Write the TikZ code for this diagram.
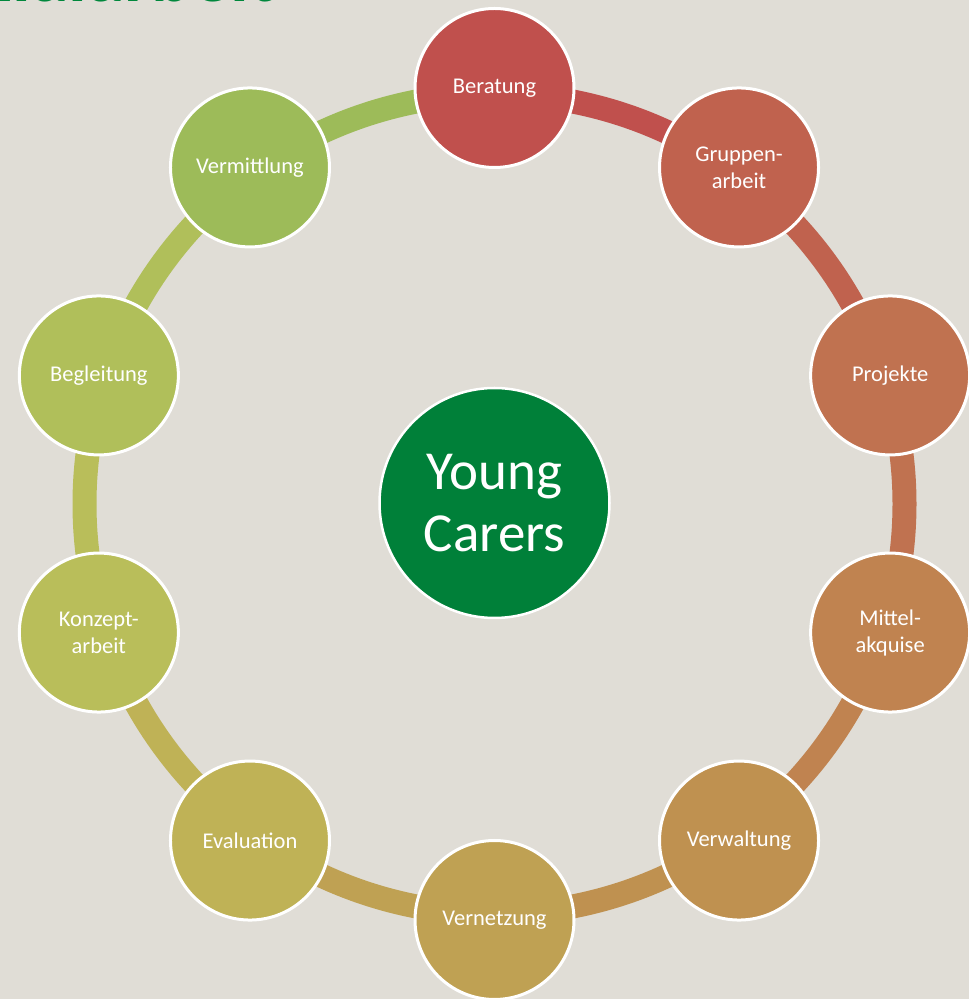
\documentclass[tikz,border=0pt]{standalone}
\usepackage{fontspec}
\setmainfont{Carlito}
\usetikzlibrary{calc}
\definecolor{bg}{HTML}{E0DDD6}
\definecolor{hub}{HTML}{008039}
\definecolor{titlegreen}{HTML}{00873C}
\definecolor{c0}{HTML}{C0504D}
\definecolor{c1}{HTML}{C0624E}
\definecolor{c2}{HTML}{C07250}
\definecolor{c3}{HTML}{C08350}
\definecolor{c4}{HTML}{BF9150}
\definecolor{c5}{HTML}{BFA153}
\definecolor{c6}{HTML}{BFB256}
\definecolor{c7}{HTML}{B9BE5A}
\definecolor{c8}{HTML}{B0BF5A}
\definecolor{c9}{HTML}{9DBB59}
\begin{document}
\begin{tikzpicture}[x=1pt,y=1pt,
  bubble/.style={circle, draw=white, line width=3pt, minimum size=159pt,
    inner sep=0pt, text=white, align=center,
    font=\fontsize{22.5}{27}\selectfont},
  hubnode/.style={circle, draw=white, line width=2.5pt, fill=hub,
    minimum size=230pt, inner sep=0pt, text=white, align=center,
    font=\fontsize{55}{62}\selectfont},
  ringarc/.style={line width=24pt}]
  % canvas
  \fill[bg] (0,0) rectangle (969,999);
  \useasboundingbox (0,0) rectangle (969,999);
  \clip (0,0) rectangle (969,999);
  % heading, cut off at the top edge
  \node[anchor=base east, inner sep=0pt, text=titlegreen,
        font=\fontsize{76}{80}\selectfont\bfseries] (title) at (276,997) {Sozialarbeit};
  % centre of the wheel
  \coordinate (O) at (494.5,495);
  % coloured ring, one arc per step
  \foreach \i/\a in {0/90,1/54,2/18,3/-18,4/-54,5/-90,6/-126,7/-162,8/-198,9/-234}{
    \draw[ringarc, c\i] (O) ++(\a:410) arc[start angle=\a, end angle=\a-36, radius=410];
  }
  % hub
  \node[hubnode] (hub) at (494.5,496) {Young\\Carers};
  % activity bubbles
  \foreach \i/\a/\t in {0/90/Beratung, 1/54/Gruppen-\\arbeit, 2/18/Projekte,
      3/-18/Mittel-\\akquise, 4/-54/Verwaltung, 5/-90/Vernetzung,
      6/-126/Evaluation, 7/-162/Konzept-\\arbeit, 8/-198/Begleitung,
      9/-234/Vermittlung}{
    \node[bubble, fill=c\i] (n\i) at ($(O)+(\a:416)$) {\t};
  }
\end{tikzpicture}
\end{document}
